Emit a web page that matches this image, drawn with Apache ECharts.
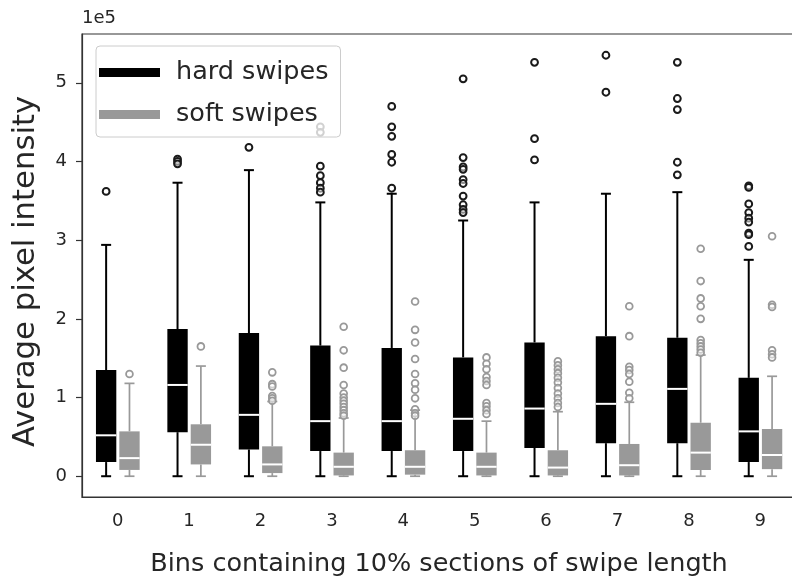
<!DOCTYPE html>
<html>
<head>
<meta charset="utf-8">
<script src="https://cdn.jsdelivr.net/npm/echarts@6/dist/echarts.min.js"></script>
<style>
  html, body { margin: 0; padding: 0; background: #fff; }
  #chart { width: 792px; height: 578px; }
</style>
</head>
<body>
<div id="chart"></div>
<script>
// Bins along the swipe (each one a 10% section of its length)
const bins = ['0', '1', '2', '3', '4', '5', '6', '7', '8', '9'];

// Hard swipes: whisker ends, quartiles and medians per bin
const hardLow  = [0, 0, 0, 0, 0, 0, 0, 0, 0, 0];
const hardQ1   = [18000, 56000, 34000, 32000, 32000, 32000, 36000, 42000, 42000, 18000];
const hardMed  = [52000, 116000, 78000, 70000, 70000, 73000, 86000, 92000, 111000, 57000];
const hardQ3   = [135000, 187000, 182000, 166000, 163000, 151000, 170000, 178000, 176000, 125000];
const hardHigh = [294000, 373000, 389000, 348000, 359000, 325000, 348000, 359000, 361000, 275000];
const hardFliers = [
  [362000],
  [403000, 400000, 397000],
  [418000],
  [444000, 437000, 394000, 382000, 373000, 366000, 361000],
  [470000, 444000, 432000, 409000, 399000, 366000],
  [505000, 405000, 393000, 390000, 377000, 372000, 356000, 345000, 339000, 335000],
  [526000, 429000, 402000],
  [535000, 488000],
  [526000, 480000, 466000, 399000, 383000],
  [369000, 367000, 346000, 335000, 328000, 323000, 309000, 307000, 292000]
];

// Soft swipes: whisker ends, quartiles and medians per bin
const softLow  = [0, 0, 0, 0, 0, 0, 0, 0, 0, 0];
const softQ1   = [8000, 15000, 4000, 1000, 2000, 1000, 1000, 1000, 8000, 9000];
const softMed  = [23000, 40000, 15000, 12000, 12000, 12000, 11000, 14000, 30000, 27000];
const softQ3   = [57000, 66000, 38000, 30000, 33000, 30000, 33000, 41000, 68000, 60000];
const softHigh = [118000, 140000, 95000, 74000, 84000, 70000, 82000, 94000, 154000, 127000];
const softFliers = [
  [130000],
  [165000],
  [132000, 117000, 114000, 102000, 99000, 96000],
  [190000, 160000, 138000, 116000, 105000, 100000, 96000, 92000, 88000, 84000, 80000, 77000],
  [222000, 186000, 170000, 149000, 130000, 118000, 110000, 99000, 85000, 80000, 77000],
  [151000, 143000, 136000, 126000, 121000, 116000, 93000, 89000, 84000, 79000],
  [146000, 141000, 136000, 131000, 125000, 119000, 112000, 105000, 99000, 93000, 88000],
  [216000, 178000, 139000, 135000, 130000, 120000, 106000, 99000],
  [289000, 248000, 226000, 216000, 200000, 173000, 169000, 165000, 161000, 157000],
  [305000, 218000, 215000, 160000, 155000, 151000]
];

const yTicks = [0, 100000, 200000, 300000, 400000, 500000];

const HARD = '#000000';
const SOFT = '#999999';
const TEXT = '#262626';
const FONT = 'DejaVu Sans';

// Box geometry in fractions of one category band
const BOX_W = 0.285;
const CAP_W = 0.14;
const HARD_OFF = -0.162;
const SOFT_OFF = 0.165;

function boxRows(low, q1, med, q3, high) {
  return bins.map((b, i) => [i, low[i], q1[i], med[i], q3[i], high[i]]);
}
function flierRows(list) {
  const rows = [];
  list.forEach((vals, i) => vals.forEach(v => rows.push([i, v])));
  return rows;
}

function boxRenderer(offset, color, whiskerW) {
  return function (params, api) {
    const i = api.value(0);
    const band = api.size([1, 0])[0];
    const cx = api.coord([i, 0])[0] + offset * band;
    const y = k => api.coord([i, api.value(k)])[1];
    const yLow = y(1), yQ1 = y(2), yMed = y(3), yQ3 = y(4), yHigh = y(5);
    const hw = BOX_W * band / 2;
    const cw = CAP_W * band / 2;
    const line = { stroke: color, lineWidth: whiskerW };
    return {
      type: 'group',
      children: [
        { type: 'line', shape: { x1: cx, y1: yQ1, x2: cx, y2: yLow }, style: line },
        { type: 'line', shape: { x1: cx, y1: yQ3, x2: cx, y2: yHigh }, style: line },
        { type: 'line', shape: { x1: cx - cw, y1: yLow, x2: cx + cw, y2: yLow }, style: line },
        { type: 'line', shape: { x1: cx - cw, y1: yHigh, x2: cx + cw, y2: yHigh }, style: line },
        { type: 'rect', shape: { x: cx - hw, y: yQ3, width: 2 * hw, height: yQ1 - yQ3 },
          style: { fill: color, stroke: null } },
        { type: 'line', shape: { x1: cx - hw, y1: yMed, x2: cx + hw, y2: yMed },
          style: { stroke: '#ffffff', lineWidth: 2 } }
      ]
    };
  };
}

function flierRenderer(offset, color, width) {
  return function (params, api) {
    const i = api.value(0);
    const band = api.size([1, 0])[0];
    const p = api.coord([i, api.value(1)]);
    return {
      type: 'circle',
      shape: { cx: p[0] + offset * band, cy: p[1], r: 3.4 },
      style: { fill: 'rgba(255,255,255,0.5)', stroke: color, lineWidth: width }
    };
  };
}

const chart = echarts.init(document.getElementById('chart'), null, { renderer: 'canvas' });

chart.setOption({
  animation: false,
  backgroundColor: '#ffffff',
  textStyle: { fontFamily: FONT },
  grid: {
    left: 82, top: 34, width: 714, height: 463,
    outerBoundsMode: 'none',
    containLabel: false,
    show: true, borderColor: '#333333', borderWidth: 1.2, backgroundColor: 'transparent'
  },
  legend: {
    orient: 'vertical',
    left: 96, top: 46,
    padding: [12, 12, 8, 3],
    itemGap: 13,
    itemWidth: 61, itemHeight: 9,
    icon: 'rect',
    backgroundColor: 'rgba(255,255,255,0.8)',
    borderColor: '#cccccc', borderWidth: 1, borderRadius: 4,
    textStyle: { fontFamily: FONT, fontSize: 25.5, color: TEXT, lineHeight: 29, padding: [0, 0, 0, 11] },
    data: [
      { name: 'hard swipes', itemStyle: { color: HARD } },
      { name: 'soft swipes', itemStyle: { color: SOFT } }
    ]
  },
  xAxis: {
    type: 'category',
    data: bins,
    boundaryGap: true,
    name: 'Bins containing 10% sections of swipe length',
    nameLocation: 'middle',
    nameGap: 54,
    nameTextStyle: { fontFamily: FONT, fontSize: 25.5, color: TEXT },
    axisLine: { onZero: false, lineStyle: { color: '#333333', width: 1.2 } },
    axisTick: { alignWithLabel: true, length: 6, lineStyle: { color: '#333333', width: 1.2 } },
    axisLabel: { fontFamily: FONT, fontSize: 18, color: TEXT, margin: 15 },
    splitLine: { show: false }
  },
  yAxis: {
    type: 'value',
    min: -26400, max: 562000,
    name: 'Average pixel intensity',
    nameLocation: 'middle',
    nameGap: 40,
    nameRotate: 90,
    nameTextStyle: { fontFamily: FONT, fontSize: 30.7, color: TEXT, padding: [0, 12, 0, 0] },
    axisLine: { show: true, onZero: false, lineStyle: { color: '#333333', width: 1.2 } },
    axisTick: { show: true, length: 6, customValues: yTicks, lineStyle: { color: '#333333', width: 1.2 } },
    axisLabel: {
      fontFamily: FONT, fontSize: 18, color: TEXT, margin: 15,
      customValues: yTicks,
      formatter: v => String(Math.round(v / 100000))
    },
    splitLine: { show: false }
  },
  graphic: [
    { type: 'text', left: 82, top: 9,
      style: { text: '1e5', fontFamily: FONT, fontSize: 18, fill: TEXT } }
  ],
  series: [
    {
      name: 'hard swipes', type: 'custom',
      itemStyle: { color: HARD },
      renderItem: boxRenderer(HARD_OFF, HARD, 2),
      encode: { x: 0, y: [1, 2, 3, 4, 5] },
      data: boxRows(hardLow, hardQ1, hardMed, hardQ3, hardHigh),
      z: 2
    },
    {
      name: 'soft swipes', type: 'custom',
      itemStyle: { color: SOFT },
      renderItem: boxRenderer(SOFT_OFF, SOFT, 1.7),
      encode: { x: 0, y: [1, 2, 3, 4, 5] },
      data: boxRows(softLow, softQ1, softMed, softQ3, softHigh),
      z: 2
    },
    {
      name: 'hard fliers', type: 'custom',
      renderItem: flierRenderer(HARD_OFF, '#1a1a1a', 2),
      encode: { x: 0, y: 1 },
      data: flierRows(hardFliers),
      z: 3
    },
    {
      name: 'soft fliers', type: 'custom',
      renderItem: flierRenderer(SOFT_OFF, SOFT, 1.8),
      encode: { x: 0, y: 1 },
      data: flierRows(softFliers),
      z: 3
    }
  ]
});
</script>
</body>
</html>
